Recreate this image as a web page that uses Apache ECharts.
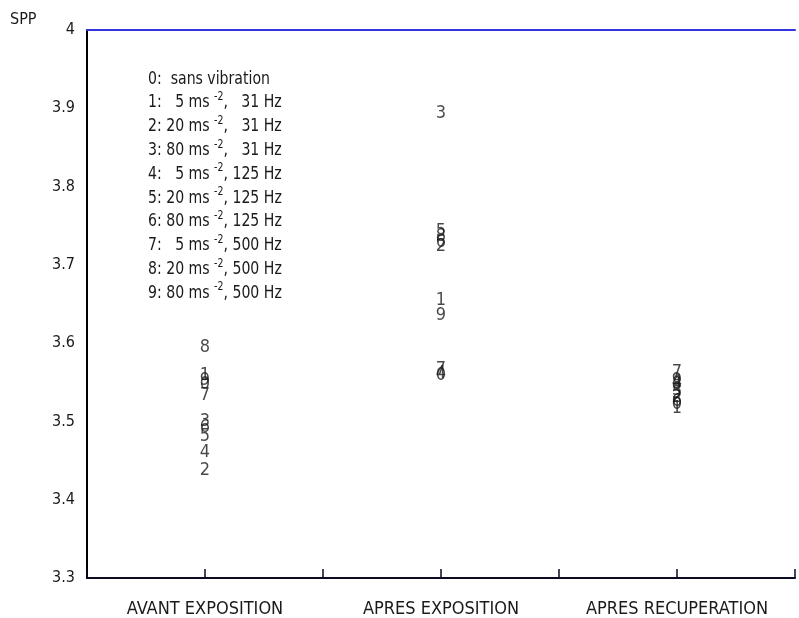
<!DOCTYPE html>
<html>
<head>
<meta charset="utf-8">
<script src="https://cdn.jsdelivr.net/npm/echarts@6/dist/echarts.min.js"></script>
<style>
  html, body { margin: 0; padding: 0; background: #fff; }
  #chart { width: 799px; height: 618px; }
</style>
</head>
<body>
<div id="chart"></div>
<script>
// conditions on the x axis (placed at x = 1, 3, 5)
const categories = ['AVANT EXPOSITION', 'APRES EXPOSITION', 'APRES RECUPERATION'];
const categoryPos = [1, 3, 5];

// SPP values, index = vibration code 0..9
const avantValues = [3.548, 3.559, 3.438, 3.500, 3.461, 3.481, 3.492, 3.533, 3.595, 3.552];
const apresValues = [3.559, 3.655, 3.724, 3.894, 3.562, 3.743, 3.729, 3.566, 3.737, 3.636];
const recupValues = [3.522, 3.517, 3.531, 3.540, 3.550, 3.536, 3.526, 3.563, 3.547, 3.552];

const yTicks = [3.3, 3.4, 3.5, 3.6, 3.7, 3.8, 3.9, 4];

// legend block: [prefix, suffix]; null suffix = no exponent
const legendLines = [
    ['0:  sans vibration', null],
    ['1:   5 ms ', ',   31 Hz'],
    ['2: 20 ms ', ',   31 Hz'],
    ['3: 80 ms ', ',   31 Hz'],
    ['4:   5 ms ', ', 125 Hz'],
    ['5: 20 ms ', ', 125 Hz'],
    ['6: 80 ms ', ', 125 Hz'],
    ['7:   5 ms ', ', 500 Hz'],
    ['8: 20 ms ', ', 500 Hz'],
    ['9: 80 ms ', ', 500 Hz']
];

const FONT = '"Liberation Sans Narrow", "DejaVu Sans Condensed", "Liberation Sans", sans-serif';
const TEXT_COLOR = '#1a1a1a';

const chart = echarts.init(document.getElementById('chart'));

const groups = [avantValues, apresValues, recupValues];
const pointData = [];
groups.forEach((vals, gi) => {
    vals.forEach((v, code) => {
        pointData.push([categoryPos[gi], v, code]);
    });
});

const legendGraphics = legendLines.map((line, i) => {
    const text = line[1] === null
        ? '{m|' + line[0] + '}'
        : '{m|' + line[0] + '}{s|-2}{m|' + line[1] + '}';
    return {
        type: 'text',
        x: 148,
        y: 67 + i * 23.8,
        scaleX: 0.87,
        style: {
            text: text,
            rich: {
                m: { fontFamily: FONT, fontSize: 18, lineHeight: 24, fill: TEXT_COLOR },
                s: { fontFamily: FONT, fontSize: 12, lineHeight: 12, verticalAlign: 'top', fill: TEXT_COLOR }
            }
        }
    };
});

const option = {
    animation: false,
    backgroundColor: '#fff',
    textStyle: { fontFamily: FONT },
    grid: { left: 87, right: 4, top: 30, bottom: 40 },
    xAxis: [
        {
            type: 'value', min: 0, max: 6, interval: 1,
            position: 'bottom',
            splitLine: { show: false },
            axisLine: { lineStyle: { color: '#0a0a20', width: 2 } },
            axisTick: { inside: true, length: 9, lineStyle: { color: '#0a0a20', width: 1.5 } },
            axisLabel: {
                margin: 22, fontSize: 18, color: TEXT_COLOR, fontFamily: FONT,
                formatter: v => {
                    const idx = categoryPos.indexOf(v);
                    return idx >= 0 ? categories[idx] : '';
                }
            }
        },
        {
            type: 'value', min: 0, max: 6, interval: 1,
            position: 'top',
            splitLine: { show: false },
            axisLine: { lineStyle: { color: '#3434e0', width: 2 } },
            axisTick: { show: false },
            axisLabel: { show: false }
        }
    ],
    yAxis: [
        {
            type: 'value', min: yTicks[0], max: yTicks[yTicks.length - 1], interval: 0.1,
            name: 'SPP', nameLocation: 'end', nameGap: 2,
            nameTextStyle: { fontSize: 16, color: TEXT_COLOR, fontFamily: FONT, align: 'left', verticalAlign: 'bottom', padding: [0, 0, 0, -77] },
            splitLine: { show: false },
            axisLine: { lineStyle: { color: '#000', width: 2 } },
            axisTick: { show: false },
            axisLabel: { margin: 12, fontSize: 16, color: TEXT_COLOR, fontFamily: FONT }
        },
        {
            type: 'value', min: yTicks[0], max: yTicks[yTicks.length - 1], interval: 0.1,
            position: 'right',
            splitLine: { show: false },
            axisLine: { show: true, lineStyle: { color: '#000', width: 2 } },
            axisTick: { show: false },
            axisLabel: { show: false }
        }
    ],
    series: [{
        type: 'scatter',
        symbolSize: 0,
        data: pointData,
        label: {
            show: true,
            position: 'inside',
            formatter: p => String(p.data[2]),
            fontSize: 18,
            fontFamily: FONT,
            color: TEXT_COLOR
        }
    }],
    graphic: legendGraphics
};

chart.setOption(option);
</script>
</body>
</html>
